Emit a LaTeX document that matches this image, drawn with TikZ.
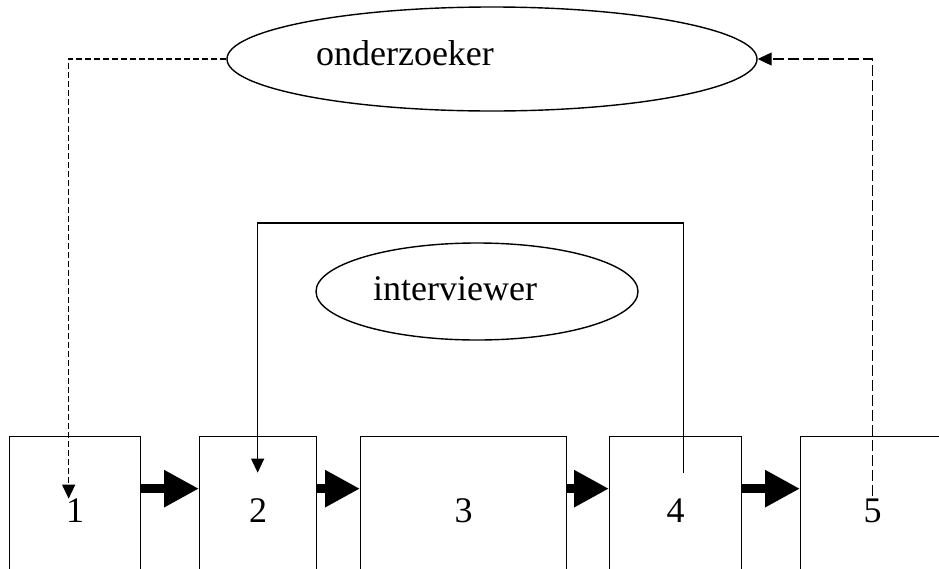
\documentclass[tikz,border=0pt]{standalone}
\usepackage{fontspec}
\setmainfont{Liberation Serif}
\usetikzlibrary{shapes.geometric,arrows.meta}
\begin{document}
\begin{tikzpicture}[x=1pt,y=-1pt,
  every node/.style={font=\fontsize{36}{42}\selectfont},
  box/.style={draw,line width=1.3pt,minimum height=148pt,inner sep=0pt,anchor=north west},
  oval/.style={draw,ellipse,line width=1.4pt,inner sep=0pt},
  flow/.style={line width=9pt,-{Triangle[length=35pt,width=35pt]}},
  thin/.style={line width=1.2pt,-{Triangle[length=14pt,width=13pt]}},
  shortdash/.style={dash pattern=on 6pt off 3pt},
  longdash/.style={dash pattern=on 11pt off 4pt}]
\useasboundingbox (0,0) rectangle (939,568);
\clip (0,0) rectangle (939,568);

% process steps
\node[box,minimum width=131pt] (b1) at (9,436) {1};
\node[box,minimum width=117pt] (b2) at (199,436) {2};
\node[box,minimum width=206pt] (b3) at (360,436) {3};
\node[box,minimum width=132pt] (b4) at (609,436) {4};
\node[box,minimum width=144pt] (b5) at (800,436) {5};

% thick arrows between steps
\draw[flow] ([yshift=22pt]b1.east) -- ([yshift=22pt]b2.west);
\draw[flow] ([yshift=22pt]b2.east) -- ([yshift=22pt]b3.west);
\draw[flow] ([yshift=22pt]b3.east) -- ([yshift=22pt]b4.west);
\draw[flow] ([yshift=22pt]b4.east) -- ([yshift=22pt]b5.west);

% roles
\node[oval,minimum width=530pt,minimum height=104pt] (ond) at (492,59) {};
\node[anchor=base] (ondtxt) at (405,65) {onderzoeker};
\node[oval,minimum width=322pt,minimum height=97pt] (int) at (477,291.5) {};
\node[anchor=base] (inttxt) at (455,300) {interviewer};

% interviewer loop from step 4 back to step 2
\coordinate (s4) at ([xshift=8pt,yshift=38pt]b4.center);
\coordinate (e2) at ([xshift=-0.5pt,yshift=38pt]b2.center);
\coordinate (bt) at (470,223);
\draw[thin] (s4) |- (bt) -| (e2);

% researcher links
\coordinate (e1) at ([xshift=-6.5pt,yshift=12pt]b1.center);
\coordinate (s5) at ([yshift=15pt]b5.center);
\draw[thin,shortdash] (ond.west) -| (e1);
\draw[thin,longdash] (s5) |- (ond.east);
\end{tikzpicture}
\end{document}
